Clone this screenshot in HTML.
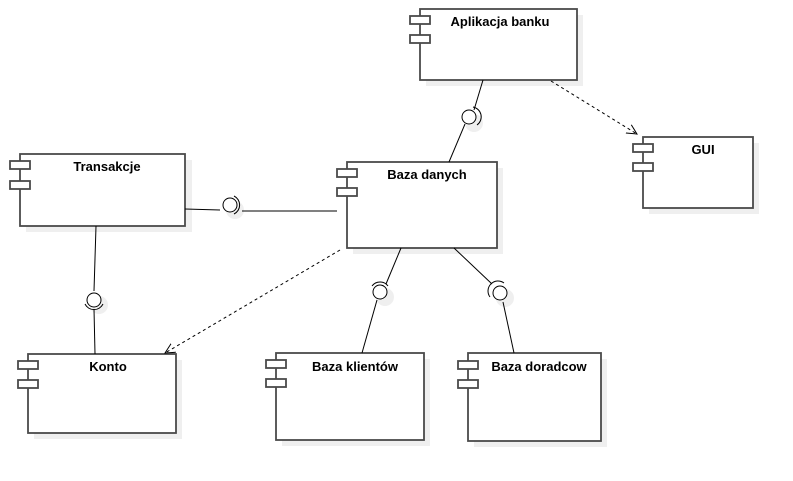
<!DOCTYPE html>
<html><head><meta charset="utf-8"><style>
html,body{margin:0;padding:0;background:#fff;}
svg{display:block;}
text{font-family:"Liberation Sans",sans-serif;font-size:13px;font-weight:bold;fill:#000;}
</style></head><body>
<svg width="793" height="481" viewBox="0 0 793 481" xmlns="http://www.w3.org/2000/svg">
<defs>
<marker id="ar" markerWidth="12" markerHeight="12" refX="10" refY="5" orient="auto" markerUnits="userSpaceOnUse">
<path d="M0,0 L10,5 L0,10" fill="none" stroke="#000" stroke-width="1"/>
</marker>
</defs>
<g fill="#efefef">
<rect x="426" y="15" width="157" height="71"/>
<rect x="353" y="168" width="150" height="86"/>
<rect x="26" y="160" width="166" height="72"/>
<rect x="34" y="360" width="148" height="79"/>
<rect x="282" y="359" width="148" height="87"/>
<rect x="474" y="359" width="133" height="88"/>
<rect x="649" y="143" width="110" height="71"/>
<circle cx="474" cy="123" r="9"/><circle cx="235" cy="210" r="9"/><circle cx="99" cy="305" r="9"/><circle cx="385" cy="297" r="9"/><circle cx="505" cy="298" r="9"/>
</g>
<g fill="#fff" stroke="#4a4a4a" stroke-width="1.8">
<rect x="420" y="9" width="157" height="71"/>
<rect x="410" y="16" width="20" height="8"/><rect x="410" y="35" width="20" height="8"/>
<rect x="347" y="162" width="150" height="86"/>
<rect x="337" y="169" width="20" height="8"/><rect x="337" y="188" width="20" height="8"/>
<rect x="20" y="154" width="165" height="72"/>
<rect x="10" y="161" width="20" height="8"/><rect x="10" y="181" width="20" height="8"/>
<rect x="28" y="354" width="148" height="79"/>
<rect x="18" y="361" width="20" height="8"/><rect x="18" y="380" width="20" height="8"/>
<rect x="276" y="353" width="148" height="87"/>
<rect x="266" y="360" width="20" height="8"/><rect x="266" y="379" width="20" height="8"/>
<rect x="468" y="353" width="133" height="88"/>
<rect x="458" y="361" width="20" height="8"/><rect x="458" y="380" width="20" height="8"/>
<rect x="643" y="137" width="110" height="71"/>
<rect x="633" y="144" width="20" height="8"/><rect x="633" y="163" width="20" height="8"/>
</g>
<text x="500" y="26" text-anchor="middle">Aplikacja banku</text>
<text x="427" y="179" text-anchor="middle">Baza danych</text>
<text x="107" y="171" text-anchor="middle">Transakcje</text>
<text x="108" y="371" text-anchor="middle">Konto</text>
<text x="355" y="371" text-anchor="middle">Baza klientów</text>
<text x="539" y="371" text-anchor="middle">Baza doradcow</text>
<g stroke="#000" stroke-width="1" fill="none">
<text x="703" y="154" text-anchor="middle" stroke="none">GUI</text>
<line x1="483" y1="80" x2="474" y2="110"/><line x1="465" y1="124" x2="449" y2="162"/>
<line x1="185" y1="209" x2="220" y2="210"/><line x1="242" y1="211" x2="337" y2="211"/>
<line x1="96" y1="226" x2="94" y2="291"/><line x1="94" y1="309" x2="95" y2="354"/>
<line x1="401" y1="248" x2="386" y2="284"/><line x1="377" y1="300" x2="362" y2="353"/>
<line x1="454" y1="248" x2="492" y2="284"/><line x1="503" y1="302" x2="514" y2="353"/>
<line x1="551" y1="81" x2="637" y2="134" stroke-dasharray="3,3" marker-end="url(#ar)"/>
<line x1="340" y1="250" x2="165" y2="353" stroke-dasharray="3,3" marker-end="url(#ar)"/>
<circle cx="469" cy="117" r="7" fill="#fff"/><path d="M473,107 A10,10 0 0 1 477,125"/>
<circle cx="230" cy="205" r="7" fill="#fff"/><path d="M234,196 A10,10 0 0 1 234,214"/>
<circle cx="94" cy="300" r="7" fill="#fff"/><path d="M85,304 A10,10 0 0 0 103,304"/>
<circle cx="380" cy="292" r="7" fill="#fff"/><path d="M372,286 A10,10 0 0 1 388,286"/>
<circle cx="500" cy="293" r="7" fill="#fff"/><path d="M490,297 A10,10 0 0 1 504,283"/>
</g>
</svg>
</body></html>
